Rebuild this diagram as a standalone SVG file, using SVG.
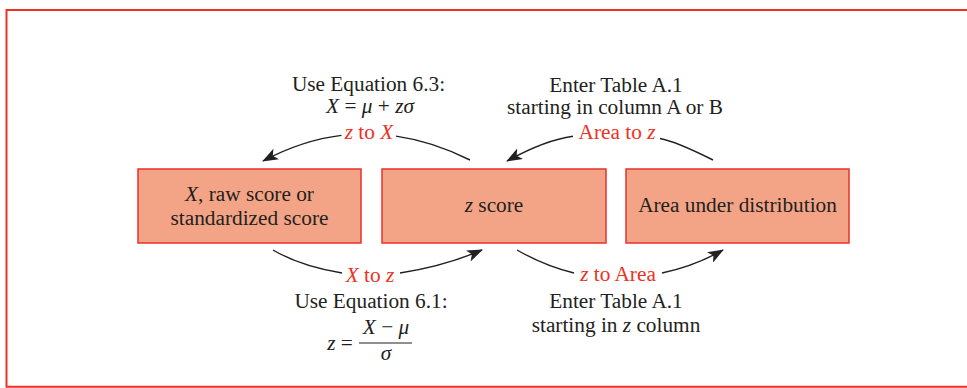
<svg xmlns="http://www.w3.org/2000/svg" width="967" height="388" viewBox="0 0 967 388">
<defs>
<style>
.t{font-family:"Liberation Serif","Times New Roman",serif;font-size:21.3px;fill:#231F20;text-anchor:middle}
.r{fill:#EE3124}
.i{font-style:italic}
.box{fill:#F4A486;stroke:#E8322A;stroke-width:1.5}
.c{fill:none;stroke:#231F20;stroke-width:1.4}
</style>
<marker id="ah" viewBox="0 0 16 12" refX="15" refY="6" markerWidth="16" markerHeight="12" markerUnits="userSpaceOnUse" orient="auto">
<path d="M0,0 L16,6 L0,12 L4,6 Z" fill="#231F20"/>
</marker>
</defs>
<rect width="967" height="388" fill="#FFFFFF"/>
<path d="M967,10 H6.5 V386.8 H967" fill="none" stroke="#EE3124" stroke-width="2"/>

<g id="connectors">
<path class="c" d="M470,160 Q432.6,141.3 396,136.1"/>
<path class="c" d="M341.5,135.4 Q302.7,140 263,161" marker-end="url(#ah)"/>
<path class="c" d="M713,160 Q675.6,141.3 660,138.5"/>
<path class="c" d="M573,136.2 Q545,140 507,161" marker-end="url(#ah)"/>
<path class="c" d="M273,250 Q300,266 342,273"/>
<path class="c" d="M400,273 Q445,266 482,250" marker-end="url(#ah)"/>
<path class="c" d="M517,250 Q545,266 574,273"/>
<path class="c" d="M662,273 Q695,266 723,250" marker-end="url(#ah)"/>
</g>

<g id="node-x">
<rect class="box" x="138" y="169" width="223" height="74"/>
<text class="t" x="249.5" y="200.5"><tspan class="i">X</tspan>, raw score or</text>
<text class="t" x="249.5" y="225">standardized score</text>
</g>
<g id="node-z">
<rect class="box" x="382" y="169" width="224" height="74"/>
<text class="t" x="494" y="212"><tspan class="i">z</tspan> score</text>
</g>
<g id="node-area">
<rect class="box" x="626" y="169" width="223" height="74"/>
<text class="t" x="737.5" y="212">Area under distribution</text>
</g>

<g id="labels">
<text class="t" x="368.5" y="91">Use Equation 6.3:</text>
<text class="t" x="370" y="113"><tspan class="i">X</tspan> = <tspan class="i">μ</tspan> + <tspan class="i">zσ</tspan></text>
<text class="t r" x="369" y="139"><tspan class="i">z</tspan> to <tspan class="i">X</tspan></text>

<text class="t" x="616" y="92">Enter Table A.1</text>
<text class="t" x="615" y="114">starting in column A or B</text>
<text class="t r" x="617" y="139">Area to <tspan class="i">z</tspan></text>

<text class="t r" x="370" y="282"><tspan class="i">X</tspan> to <tspan class="i">z</tspan></text>
<text class="t" x="371" y="308">Use Equation 6.1:</text>
<text class="t" x="340" y="350"><tspan class="i">z</tspan> =</text>
<text class="t" x="386" y="334"><tspan class="i">X</tspan> − <tspan class="i">μ</tspan></text>
<line x1="359" y1="343" x2="412" y2="343" stroke="#231F20" stroke-width="1.2"/>
<text class="t i" x="386" y="360">σ</text>

<text class="t r" x="618" y="281"><tspan class="i">z</tspan> to Area</text>
<text class="t" x="616" y="308">Enter Table A.1</text>
<text class="t" x="616" y="332">starting in <tspan class="i">z</tspan> column</text>
</g>
</svg>
